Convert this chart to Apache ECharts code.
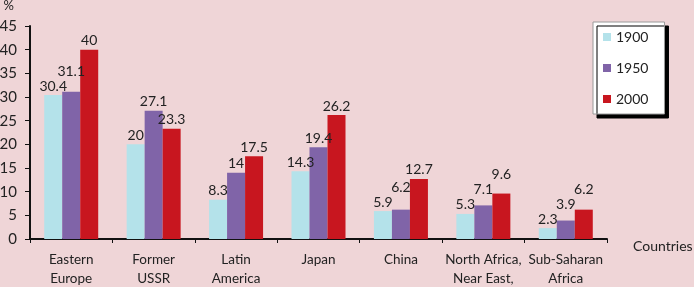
<!DOCTYPE html>
<html>
<head>
<meta charset="utf-8">
<script src="https://cdn.jsdelivr.net/npm/echarts@6/dist/echarts.min.js"></script>
<style>
  html, body { margin: 0; padding: 0; background: #efd5d7; }
  #chart { width: 694px; height: 287px; }
</style>
</head>
<body>
<div id="chart"></div>
<script>
// 分类与数据
const categories = ['Eastern\nEurope', 'Former\nUSSR', 'Latin\nAmerica', 'Japan', 'China', 'North Africa,\nNear East,', 'Sub-Saharan\nAfrica']
const years = ['1900', '1950', '2000']
const values1900 = [30.4, 20, 8.3, 14.3, 5.9, 5.3, 2.3]
const values1950 = [31.1, 27.1, 14, 19.4, 6.2, 7.1, 3.9]
const values2000 = [40, 23.3, 17.5, 26.2, 12.7, 9.6, 6.2]
const colors = ['#b4e2ea', '#8064a8', '#c8161f']

const font = 'Lato, "Open Sans", sans-serif'
const labelSize = 14
const labelHeight = 15
const barWidth = 18
const chart = echarts.init(document.getElementById('chart'))

const makeSeries = (name, data, color) => ({
  name,
  type: 'bar',
  data: data.map((v) => ({ value: v })),
  barWidth,
  barGap: '0%',
  itemStyle: { color },
  label: {
    show: true,
    position: 'top',
    distance: 2,
    color: '#222',
    fontSize: labelSize,
    fontFamily: font
  }
})

const allValues = [values1900, values1950, values2000]

const option = {
  backgroundColor: '#efd5d7',
  animation: false,
  textStyle: { fontFamily: font },
  grid: { left: 30, right: 87, top: 26, bottom: 48, containLabel: false, outerBoundsMode: 'none' },
  legend: {
    orient: 'vertical',
    left: 593,
    top: 22,
    data: years,
    icon: 'rect',
    itemWidth: 8,
    itemHeight: 8,
    itemGap: 17,
    padding: [8, 16, 8, 10],
    backgroundColor: '#ffffff',
    borderColor: '#9a9a9a',
    borderWidth: 1,
    shadowColor: '#000',
    shadowOffsetX: 4,
    shadowOffsetY: 4,
    shadowBlur: 0,
    textStyle: { fontSize: 14, color: '#222', fontFamily: font }
  },
  xAxis: {
    type: 'category',
    data: categories,
    name: 'Countries',
    nameLocation: 'end',
    nameGap: 26,
    nameTextStyle: { fontSize: 14, color: '#222', verticalAlign: 'top', padding: [0, 0, 0, 0] },
    axisLine: { lineStyle: { color: '#111', width: 2 } },
    axisTick: { show: true, length: 4, lineStyle: { color: '#111', width: 1 } },
    axisLabel: { fontSize: 13.5, color: '#222', lineHeight: 19, margin: 11, interval: 0, fontFamily: font }
  },
  yAxis: {
    type: 'value',
    min: 0,
    max: 45,
    interval: 5,
    name: '%',
    nameLocation: 'end',
    nameGap: 20,
    nameTextStyle: { fontSize: 13, color: '#222', align: 'right', verticalAlign: 'middle', padding: [0, 16, 0, 0] },
    axisLine: { show: true, lineStyle: { color: '#111', width: 2 } },
    axisTick: { show: true, inside: false, length: 5, lineStyle: { color: '#111' } },
    axisLabel: { fontSize: 15, color: '#222', margin: 13, fontFamily: font },
    splitLine: { show: false }
  },
  series: allValues.map((vals, i) => makeSeries(years[i], vals, colors[i]))
}

chart.setOption(option)

// 标签避让：相邻标签重叠时往上挪
const ctx = document.createElement('canvas').getContext('2d')
ctx.font = labelSize + 'px ' + font
categories.forEach((c, ci) => {
  const placed = []
  allValues.forEach((vals, si) => {
    const p = chart.convertToPixel({ seriesIndex: si }, [ci, vals[ci]])
    const x = p[0] + (si - 1) * barWidth
    const w = ctx.measureText(String(vals[ci])).width
    const base = p[1] - 2
    let bottom = base
    let moved = true
    while (moved) {
      moved = false
      placed.forEach((q) => {
        const hOver = Math.abs(q.x - x) < (q.w + w) / 2
        const vOver = bottom > q.bottom - labelHeight && bottom - labelHeight < q.bottom
        if (hOver && vOver) {
          bottom = q.bottom - labelHeight
          moved = true
        }
      })
    }
    placed.push({ x, w, bottom })
    option.series[si].data[ci].label = { offset: [0, bottom - base] }
  })
})
chart.setOption(option)
</script>
</body>
</html>
